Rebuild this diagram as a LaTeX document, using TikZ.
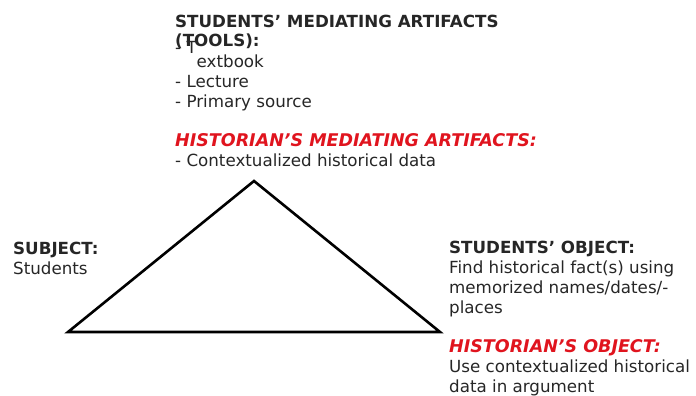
\documentclass[tikz,border=0pt]{standalone}
\usepackage{fontspec}
\setmainfont{DejaVu Sans}
\usepackage{xcolor}
\usetikzlibrary{positioning}
\definecolor{txtgray}{HTML}{262626}
\definecolor{histred}{HTML}{E0141E}
\newcommand{\histhead}[1]{\textcolor{histred}{\fontsize{17.5}{20}\selectfont\textbf{\textit{#1}}}}

\begin{document}
\begin{tikzpicture}[x=1pt,y=-1pt,
        label/.style = {inner sep=0pt,anchor=base west,align=left,text=txtgray,
                        font=\fontsize{16.7}{20}\selectfont}
        ]

        %Rahmen
        \useasboundingbox (0,0) rectangle (696,396);

        %Dreieck
        \coordinate (top)   at (254,181);
        \coordinate (left)  at (68,332);
        \coordinate (right) at (440,332);
        \draw[line width=2.6pt,line join=miter] (top) -- (right) -- (left) -- cycle;

        %Werkzeuge (base = letzte Zeile)
        \node[label] (tools) at (175,107) {\textbf{STUDENTS’ MEDIATING ARTIFACTS}\\[-1pt]
            \textbf{(TOOLS):}\\[1pt]
            \raisebox{14pt}[0pt][0pt]{- T}extbook\\
            - Lecture\\
            - Primary source};
        \node[label] (histtools) at (175,166) {\histhead{HISTORIAN’S MEDIATING ARTIFACTS:}\\
            - Contextualized historical data};

        %Subjekt
        \node[label] (subject) at (13,274) {\textbf{SUBJECT:}\\Students};

        %Objekt
        \node[label] (object) at (449,313) {\textbf{STUDENTS’ OBJECT:}\\
            Find historical fact(s) using\\
            memorized names/dates/-\\
            places};
        \node[label] (histobject) at (449,392) {\histhead{HISTORIAN’S OBJECT:}\\
            Use contextualized historical\\
            data in argument};

\end{tikzpicture}
\end{document}
